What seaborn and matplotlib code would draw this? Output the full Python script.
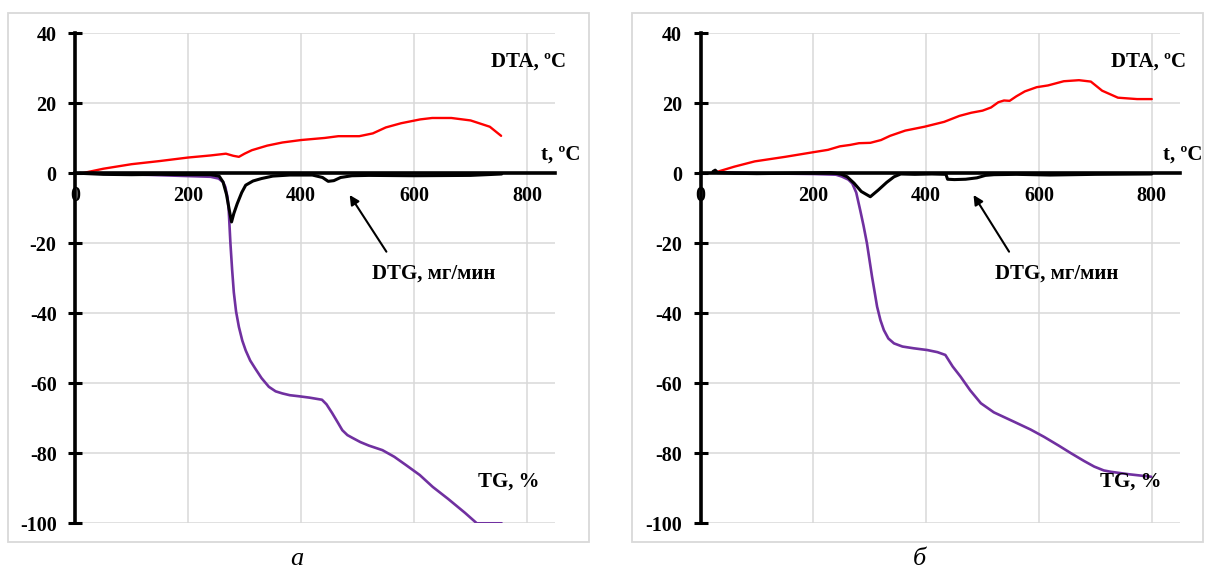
import matplotlib
matplotlib.use("Agg")
import matplotlib.pyplot as plt
from matplotlib.patches import Rectangle
import seaborn as sns

# ---- panel "а" ----
t_dta_a = [12, 50, 100, 150, 200, 240, 267, 280, 290, 300, 313, 340, 367, 400, 442,
           466, 503, 527, 550, 577, 611, 632, 666, 700, 734, 754]
dta_a = [0, 1.3, 2.6, 3.5, 4.5, 5.1, 5.6, 5.0, 4.7, 5.6, 6.6, 7.9, 8.8, 9.5, 10.1,
         10.6, 10.6, 11.4, 13.1, 14.3, 15.4, 15.8, 15.8, 15.1, 13.3, 10.7]

t_tg_a = [10, 100, 200, 240, 254, 262, 266, 270, 272, 275, 278, 281, 285, 290, 296,
          302, 310, 319, 330, 343, 355, 367, 380, 396, 415, 437, 445, 455, 465, 473,
          482, 491, 505, 520, 544, 565, 586, 610, 633, 660, 690, 711, 755]
tg_a = [0, -0.3, -0.8, -1.0, -1.5, -2.5, -3.9, -7.0, -10.6, -20.0, -27.5, -34.0, -39.5,
        -43.9, -47.8, -50.6, -53.5, -55.8, -58.5, -61.0, -62.3, -62.9, -63.4, -63.7,
        -64.1, -64.7, -66.0, -68.5, -71.2, -73.4, -74.8, -75.6, -76.8, -77.8, -79.1,
        -81.0, -83.4, -86.2, -89.6, -93.0, -97.0, -100, -100]

t_dtg_a = [8, 50, 100, 150, 200, 240, 255, 262, 268, 273, 277, 281, 287, 295, 302,
           315, 330, 350, 380, 420, 438, 448, 458, 470, 490, 520, 600, 700, 755]
dtg_a = [0, -0.3, -0.4, -0.3, -0.4, -0.4, -0.8, -2.5, -6.0, -10.5, -13.9, -11.5, -8.7,
         -5.5, -3.4, -2.2, -1.5, -0.8, -0.5, -0.5, -1.2, -2.3, -2.1, -1.2, -0.7, -0.6,
         -0.7, -0.6, -0.2]

# ---- panel "б" ----
t_dta_b = [27, 60, 96, 150, 199, 226, 247, 265, 281, 301, 320, 336, 363, 397, 432,
           459, 480, 500, 515, 528, 538, 548, 560, 575, 596, 616, 644, 671, 692, 712,
           740, 774, 800]
dta_b = [0.3, 1.9, 3.4, 4.7, 6.0, 6.7, 7.7, 8.1, 8.6, 8.7, 9.5, 10.7, 12.2, 13.3, 14.7,
         16.4, 17.3, 17.9, 18.8, 20.3, 20.8, 20.7, 22.0, 23.4, 24.6, 25.1, 26.3, 26.6,
         26.2, 23.6, 21.6, 21.2, 21.2]

t_tg_b = [25, 100, 200, 240, 250, 262, 269, 276, 283, 289, 295, 304, 313, 319, 325,
          333, 343, 358, 378, 402, 420, 434, 447, 461, 478, 497, 520, 556, 585, 609,
          635, 657, 680, 698, 715, 728, 760, 799]
tg_b = [0.3, 0, -0.2, -0.4, -0.9, -1.8, -2.9, -5.5, -10.5, -15.0, -20.0, -29.5, -38.1,
        -42.0, -44.8, -47.2, -48.6, -49.5, -50.0, -50.5, -51.1, -51.9, -55.2, -58.1,
        -62.0, -65.7, -68.3, -71.0, -73.2, -75.3, -77.8, -80.0, -82.2, -83.8, -84.9,
        -85.3, -86.0, -86.7]

t_dtg_b = [22, 26, 30, 60, 100, 150, 200, 230, 240, 250, 260, 272, 285, 301, 315, 330,
           343, 355, 380, 410, 435, 438, 450, 470, 490, 505, 520, 560, 620, 700, 800]
dtg_b = [0.5, 0.9, 0.2, 0, -0.1, 0, 0.1, 0.2, 0, -0.3, -1.0, -2.8, -5.2, -6.7, -4.8,
         -2.6, -1.0, -0.2, -0.3, -0.2, -0.3, -1.7, -1.8, -1.7, -1.3, -0.6, -0.4, -0.3,
         -0.5, -0.3, -0.2]

x_ticks = [0, 200, 400, 600, 800]
y_ticks = [40, 20, 0, -20, -40, -60, -80, -100]
captions = ["а", "б"]

sns.set_theme(style="white")
plt.rcParams["font.family"] = ["Liberation Serif", "DejaVu Serif"]
plt.rcParams["axes.unicode_minus"] = False

RED = "#ff0000"
PURPLE = "#7030a0"
GRID = "#d9d9d9"
FS_TICK = 14.5
FS_LBL = 15

fig = plt.figure(figsize=(12.06, 5.68), dpi=100)
W, H = 1206, 568

# light frames around each panel
for x0, x1 in [(8, 589), (632, 1203)]:
    fig.patches.append(Rectangle((x0 / W, 1 - 542 / H), (x1 - x0) / W, (542 - 13) / H,
                                 transform=fig.transFigure, fill=False,
                                 edgecolor=GRID, linewidth=1.3))

panels = [
    dict(rect=[0.0622, 0.0787, 0.3983, 0.8627],
         dta=(t_dta_a, dta_a), tg=(t_tg_a, tg_a), dtg=(t_dtg_a, dtg_a),
         dta_lbl=(802, 32), t_lbl=(860, 5.2), dtg_lbl=(635, -28.6), tg_lbl=(767, -88.1),
         arrow=((551, -22.4), (486, -6.2)), cap_x=297),
    dict(rect=[0.5809, 0.0787, 0.3975, 0.8627],
         dta=(t_dta_b, dta_b), tg=(t_tg_b, tg_b), dtg=(t_dtg_b, dtg_b),
         dta_lbl=(795, 32), t_lbl=(855, 5.2), dtg_lbl=(631, -28.6), tg_lbl=(763, -88.1),
         arrow=((547, -22.4), (484, -6.2)), cap_x=919),
]

for p, cap in zip(panels, captions):
    ax = fig.add_axes(p["rect"])
    ax.set_facecolor("none")

    sns.lineplot(x=p["tg"][0], y=p["tg"][1], ax=ax, color=PURPLE, linewidth=1.9,
                 estimator=None, sort=False, zorder=3)
    sns.lineplot(x=p["dtg"][0], y=p["dtg"][1], ax=ax, color="black", linewidth=2.2,
                 estimator=None, sort=False, zorder=4)
    sns.lineplot(x=p["dta"][0], y=p["dta"][1], ax=ax, color=RED, linewidth=1.7,
                 estimator=None, sort=False, zorder=3)
    ax.set_xlim(0, 850)
    ax.set_ylim(-100, 40)
    ax.set_xlabel("")
    ax.set_ylabel("")

    # axes cross at the origin (done before tick styling, since it rebuilds ticks)
    for side in ("top", "right"):
        ax.spines[side].set_visible(False)
    ax.spines["left"].set_position(("data", 0))
    ax.spines["bottom"].set_position(("data", 0))
    for side in ("left", "bottom"):
        ax.spines[side].set_linewidth(2.6)
        ax.spines[side].set_color("black")
        ax.spines[side].set_zorder(5)

    ax.set_xticks(x_ticks)
    ax.set_yticks(y_ticks)
    ax.set_xticklabels([str(v) for v in x_ticks])
    ax.set_yticklabels([str(v) for v in y_ticks])
    ax.tick_params(axis="y", direction="inout", length=9.5, width=2.2, pad=8.5,
                   colors="black", left=True, labelsize=FS_TICK)
    ax.tick_params(axis="x", length=0, pad=9.5, colors="black", labelsize=FS_TICK)
    for lbl in ax.get_xticklabels() + ax.get_yticklabels():
        lbl.set_fontweight("bold")
    ax.grid(True, color=GRID, linewidth=1.1)
    ax.set_axisbelow(True)

    txt = dict(fontsize=FS_LBL, fontweight="bold", ha="center", va="center", color="black")
    ax.text(*p["dta_lbl"], "DTA, ºC", **txt)
    ax.text(*p["t_lbl"], "t, ºC", **txt)
    ax.text(*p["dtg_lbl"], "DTG, мг/мин", **txt)
    ax.text(*p["tg_lbl"], "TG, %", **txt)
    ax.annotate("", xy=p["arrow"][1], xytext=p["arrow"][0],
                arrowprops=dict(arrowstyle="-|>", color="black", lw=1.5,
                                mutation_scale=14, shrinkA=0, shrinkB=0))

    fig.text(p["cap_x"] / W, 1 - 559 / H, cap, fontsize=19, fontstyle="italic",
             ha="center", va="center", color="black")

fig.savefig("out.png", dpi=100)
